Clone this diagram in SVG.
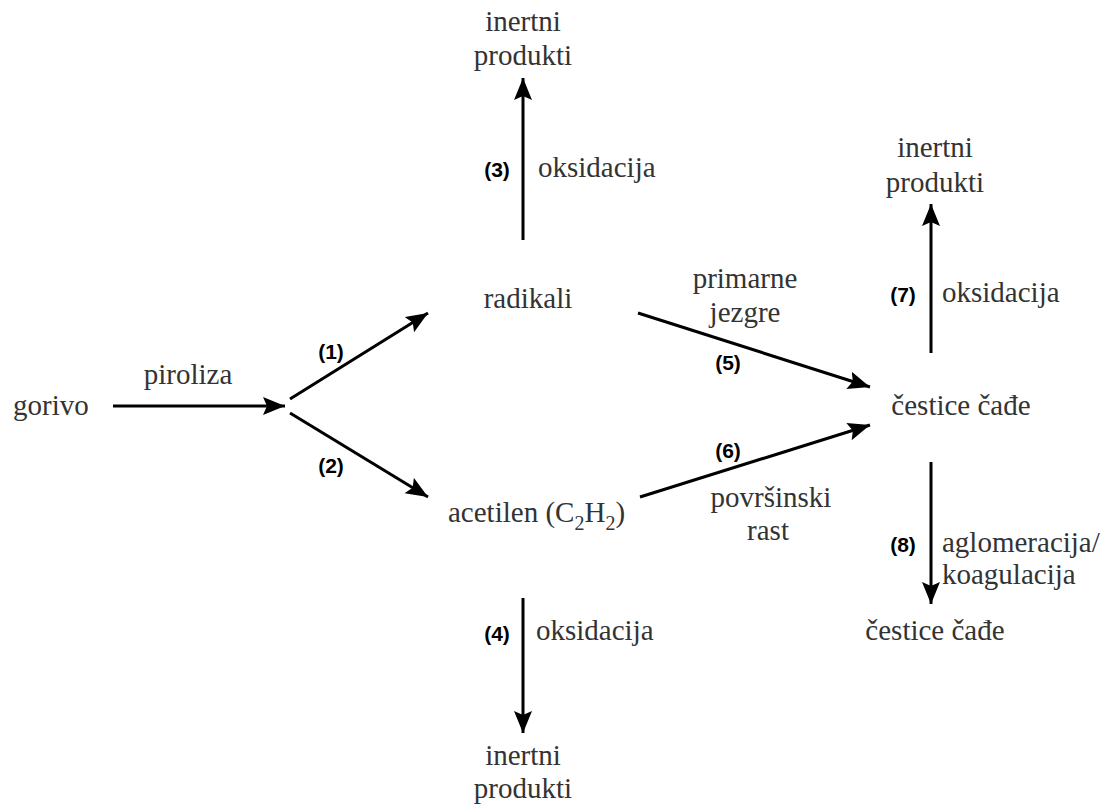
<svg xmlns="http://www.w3.org/2000/svg" width="1112" height="805" viewBox="0 0 1112 805">
<style>
.t{font-family:"Liberation Serif","Times New Roman",serif;font-size:29px;fill:#333;}
.m{text-anchor:middle;}
.n{font-family:"Liberation Sans",Arial,sans-serif;font-size:21px;font-weight:bold;fill:#000;text-anchor:middle;}
.c{stroke:#000;stroke-width:3;fill:none;marker-end:url(#ah);}
</style>
<defs>
<marker id="ah" markerUnits="userSpaceOnUse" markerWidth="24" markerHeight="20" refX="22" refY="9" orient="auto">
<path d="M0,0 L22,9 L0,18 L4,9 z" fill="#000"/>
</marker>
</defs>
<rect width="1112" height="805" fill="#fff"/>
<g id="connectors">
<line class="c" x1="113" y1="406" x2="285" y2="406"/>
<line class="c" x1="290" y1="399" x2="428" y2="313"/>
<line class="c" x1="290" y1="413" x2="428" y2="497"/>
<line class="c" x1="523" y1="240" x2="523" y2="78"/>
<line class="c" x1="523" y1="598" x2="523" y2="733"/>
<line class="c" x1="638" y1="313" x2="870" y2="387"/>
<line class="c" x1="640" y1="497" x2="870" y2="425"/>
<line class="c" x1="931" y1="353" x2="931" y2="204"/>
<line class="c" x1="931" y1="462" x2="931" y2="604"/>
</g>
<g id="labels">
<text class="t m" x="188" y="384">piroliza</text>
<text class="n" x="331" y="359">(1)</text>
<text class="n" x="331" y="473">(2)</text>
<text class="n" x="497" y="177">(3)</text>
<text class="t" x="538" y="177">oksidacija</text>
<text class="n" x="497" y="641">(4)</text>
<text class="t" x="536" y="640">oksidacija</text>
<text class="t m" x="745" y="288">primarne</text>
<text class="t m" x="745" y="322">jezgre</text>
<text class="n" x="728" y="370">(5)</text>
<text class="n" x="728" y="458">(6)</text>
<text class="t m" x="771" y="507">površinski</text>
<text class="t m" x="768" y="540">rast</text>
<text class="n" x="903" y="302">(7)</text>
<text class="t" x="942" y="302">oksidacija</text>
<text class="n" x="903" y="552">(8)</text>
<text class="t" x="942" y="552">aglomeracija/</text>
<text class="t" x="942" y="584">koagulacija</text>
</g>
<g id="gorivo"><text class="t" x="13" y="415">gorivo</text></g>
<g id="radikali"><text class="t m" x="528" y="308">radikali</text></g>
<g id="acetilen"><text class="t" x="448" y="522">acetilen (C<tspan font-size="20" dy="8">2</tspan><tspan dy="-8">H</tspan><tspan font-size="20" dy="8">2</tspan><tspan dy="-8">)</tspan></text></g>
<g id="inertni-top"><text class="t m" x="523" y="31">inertni</text><text class="t m" x="523" y="65">produkti</text></g>
<g id="inertni-bottom"><text class="t m" x="523" y="765">inertni</text><text class="t m" x="523" y="798">produkti</text></g>
<g id="inertni-right"><text class="t m" x="935" y="157">inertni</text><text class="t m" x="935" y="192">produkti</text></g>
<g id="cestice"><text class="t m" x="961" y="415">čestice čađe</text></g>
<g id="cestice-bottom"><text class="t m" x="935" y="640">čestice čađe</text></g>
</svg>
